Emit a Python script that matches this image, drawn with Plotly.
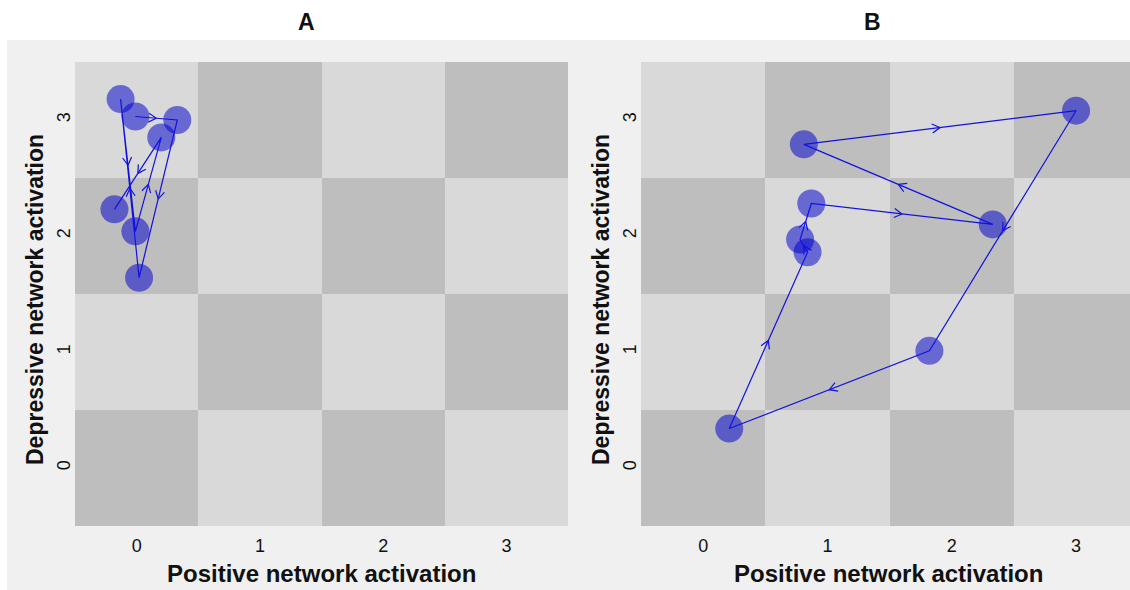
import math
import plotly.graph_objects as go

# ---- data ----
cells = [0, 1, 2, 3]
# checkerboard shade index (0 = dark, 1 = light)
board = [[(i + j) % 2 for i in cells] for j in cells]

# Panel A trajectory (time order)
a_x = [-0.01, 0.33, 0.02, -0.13, -0.01, 0.20, -0.18]
a_y = [3.03, 3.00, 1.64, 3.18, 2.04, 2.85, 2.23]

# Panel B trajectory (time order, returns to start)
b_x = [0.21, 0.84, 0.78, 0.87, 2.33, 0.81, 3.00, 1.82, 0.21]
b_y = [0.34, 1.86, 1.97, 2.28, 2.10, 2.79, 3.08, 1.01, 0.34]
b_npts = 8  # distinct timepoints drawn as circles

tick_vals = [0, 1, 2, 3]
tick_text = ["0", "1", "2", "3"]
titles = ["A", "B"]
xlab = "Positive network activation"
ylab = "Depressive network activation"

# ---- style / layout ----
W, H = 1130, 590
DARK, LIGHT = "#bebebe", "#d9d9d9"
PT = "rgba(0,0,205,0.52)"
LN = "#1212e0"
FONT = "Liberation Sans, Arial, sans-serif"
YR = [-0.5, 3.5]
XR_A = [-0.5, 3.5]
XR_B = [-0.5, 3.434]
XDOM_A = [75, 568]
XDOM_B = [641, 1130]
YDOM = [62, 526]
HEAD_LEN, HEAD_ANG = 9.0, math.radians(30)

fig = go.Figure()

panels = [
    dict(xa="x", ya="y", px=a_x, py=a_y, n=len(a_x), xr=XR_A, xd=XDOM_A),
    dict(xa="x2", ya="y2", px=b_x, py=b_y, n=b_npts, xr=XR_B, xd=XDOM_B),
]

for p in panels:
    fig.add_trace(go.Heatmap(
        x=cells, y=cells, z=board, xaxis=p["xa"], yaxis=p["ya"],
        colorscale=[[0, DARK], [1, LIGHT]], zmin=0, zmax=1,
        showscale=False, hoverinfo="skip"))
    fig.add_trace(go.Scatter(
        x=p["px"][:p["n"]], y=p["py"][:p["n"]], xaxis=p["xa"], yaxis=p["ya"],
        mode="markers", marker=dict(size=28, color=PT, line=dict(width=0)),
        hoverinfo="skip", showlegend=False))
    fig.add_trace(go.Scatter(
        x=p["px"], y=p["py"], xaxis=p["xa"], yaxis=p["ya"],
        mode="lines", line=dict(color=LN, width=1.2),
        hoverinfo="skip", showlegend=False))
    # open arrowheads at segment midpoints (built in pixel space)
    sx = (p["xd"][1] - p["xd"][0]) / (p["xr"][1] - p["xr"][0])
    sy = (YDOM[1] - YDOM[0]) / (YR[1] - YR[0])
    hx, hy = [], []
    xs, ys = p["px"], p["py"]
    for k in range(len(xs) - 1):
        mx, my = (xs[k] + xs[k + 1]) / 2, (ys[k] + ys[k + 1]) / 2
        dx, dy = (xs[k + 1] - xs[k]) * sx, (ys[k + 1] - ys[k]) * sy
        ln = math.hypot(dx, dy)
        ux, uy = dx / ln, dy / ln
        for sgn in (1, -1):
            c, s = math.cos(sgn * HEAD_ANG), math.sin(sgn * HEAD_ANG)
            rx, ry = ux * c - uy * s, ux * s + uy * c
            hx += [mx - HEAD_LEN * rx / sx, mx]
            hy += [my - HEAD_LEN * ry / sy, my]
        hx.append(None)
        hy.append(None)
    fig.add_trace(go.Scatter(
        x=hx, y=hy, xaxis=p["xa"], yaxis=p["ya"], mode="lines",
        line=dict(color=LN, width=1.2), hoverinfo="skip", showlegend=False))

axis_common = dict(showgrid=False, zeroline=False, showline=False,
                   tickvals=tick_vals, ticktext=tick_text,
                   tickfont=dict(family=FONT, size=18, color="#111111"))
xticks = dict(ticks="outside", ticklen=3, tickcolor="rgba(0,0,0,0)")
yticks = dict(ticks="", ticklen=0)
ydom = [1 - YDOM[1] / H, 1 - YDOM[0] / H]
fig.update_layout(
    width=W, height=H, margin=dict(l=0, r=0, t=0, b=0),
    paper_bgcolor="white", plot_bgcolor="#f0f0f0", showlegend=False,
    xaxis=dict(domain=[XDOM_A[0] / W, XDOM_A[1] / W], range=XR_A, anchor="y", **axis_common, **xticks),
    yaxis=dict(domain=ydom, range=YR, anchor="x", tickangle=-90, **axis_common, **yticks),
    xaxis2=dict(domain=[XDOM_B[0] / W, XDOM_B[1] / W], range=XR_B, anchor="y2", **axis_common, **xticks),
    yaxis2=dict(domain=ydom, range=YR, anchor="x2", tickangle=-90, **axis_common, **yticks),
)

# light gray panel background
fig.add_shape(type="rect", xref="paper", yref="paper", x0=7 / W, x1=1, y0=0,
              y1=1 - 40 / H, fillcolor="#f0f0f0", line=dict(width=0), layer="below")

# titles and axis labels
for cx, t in zip([306, 872], titles):
    fig.add_annotation(x=cx / W, y=1 - 22 / H, xref="paper", yref="paper", text="<b>%s</b>" % t,
                       showarrow=False, font=dict(family=FONT, size=23, color="#111111"),
                       xanchor="center", yanchor="middle")
for cx in [321.5, 888]:
    fig.add_annotation(x=cx / W, y=1 - 573 / H, xref="paper", yref="paper", text="<b>%s</b>" % xlab,
                       showarrow=False, font=dict(family=FONT, size=24, color="#111111"),
                       xanchor="center", yanchor="middle")
for cx in [35, 601]:
    fig.add_annotation(x=cx / W, y=1 - 300 / H, xref="paper", yref="paper", text="<b>%s</b>" % ylab,
                       showarrow=False, textangle=-90, font=dict(family=FONT, size=23, color="#111111"),
                       xanchor="center", yanchor="middle")

fig.write_html("out.html", config={"displayModeBar": False},
               post_script="document.body.style.margin='0';document.body.style.overflow='hidden';")
